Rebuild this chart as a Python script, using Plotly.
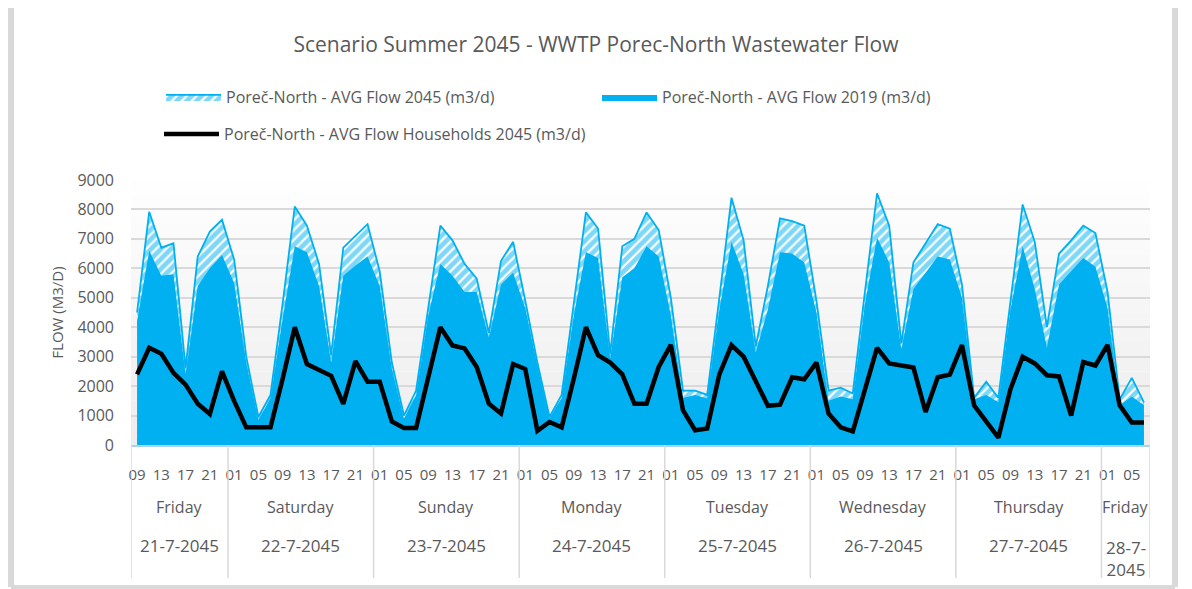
import plotly.graph_objects as go

# ---------------- data ----------------
hours = ["09","11","13","15","17","19","21","23",
         "01","03","05","07","09","11","13","15","17","19","21","23",
         "01","03","05","07","09","11","13","15","17","19","21","23",
         "01","03","05","07","09","11","13","15","17","19","21","23",
         "01","03","05","07","09","11","13","15","17","19","21","23",
         "01","03","05","07","09","11","13","15","17","19","21","23",
         "01","03","05","07","09","11","13","15","17","19","21","23",
         "01","03","05","07"]
days = ["Friday", "Saturday", "Sunday", "Monday", "Tuesday", "Wednesday", "Thursday", "Friday"]
dates = ["21-7-2045", "22-7-2045", "23-7-2045", "24-7-2045", "25-7-2045", "26-7-2045", "27-7-2045", "28-7-<br>2045"]
day_counts = [8, 12, 12, 12, 12, 12, 12, 4]

flow_2045 = [4500, 7920, 6700, 6850, 2600, 6400, 7250, 7650,
             6300, 3000, 950, 1700, 4800, 8100, 7450, 6150, 3050, 6700, 7100, 7500,
             5900, 2800, 1000, 1850, 4650, 7450, 6950, 6150, 5650, 3800, 6250, 6900,
             4900, 2800, 950, 1700, 4800, 7900, 7350, 3100, 6750, 7000, 7900, 7300,
             5000, 1850, 1850, 1700, 5000, 8400, 6950, 3350, 5400, 7700, 7600, 7450,
             4900, 1850, 1950, 1750, 5200, 8550, 7450, 3450, 6200, 6850, 7500, 7350,
             5450, 1600, 2150, 1600, 4900, 8170, 6900, 4000, 6500, 6950, 7450, 7200,
             5200, 1550, 2280, 1450]
flow_2019 = [4200, 6600, 5750, 5800, 2400, 5400, 6000, 6450,
             5500, 2800, 850, 1600, 4300, 6750, 6550, 5400, 2800, 5750, 6100, 6400,
             5400, 2600, 900, 1700, 4400, 6150, 5750, 5200, 5200, 3650, 5450, 5850,
             4650, 2700, 900, 1600, 4400, 6550, 6350, 2950, 5700, 6000, 6750, 6400,
             4400, 1600, 1700, 1580, 4600, 6900, 5800, 3150, 4600, 6550, 6500, 6200,
             4500, 1500, 1650, 1550, 4800, 7050, 6200, 3250, 5300, 5850, 6400, 6300,
             5000, 1550, 1700, 1450, 4600, 6750, 5300, 3300, 5450, 5900, 6350, 6050,
             4650, 1350, 1650, 1350]
households_2045 = [2400, 3300, 3100, 2450, 2050, 1400, 1050, 2500,
                   1500, 600, 600, 600, 2250, 4000, 2750, 2550, 2350, 1400, 2850, 2150,
                   2150, 800, 580, 580, 2350, 4000, 3380, 3280, 2650, 1400, 1070, 2750,
                   2580, 480, 780, 600, 2250, 4000, 3050, 2800, 2400, 1400, 1400, 2650,
                   3400, 1180, 500, 560, 2400, 3390, 3000, 2150, 1330, 1370, 2300, 2230,
                   2800, 1070, 600, 460, 1900, 3300, 2770, 2690, 2630, 1120, 2300, 2390,
                   3390, 1350, 800, 250, 1900, 3000, 2770, 2370, 2330, 1000, 2820, 2700,
                   3400, 1350, 760, 760]

# ---------------- geometry (screen pixels; page body has an 8px margin) ----------------
OFF = 8
W, H = 1192 - OFF, 589 - OFF
PLOT_L, PLOT_R, PLOT_T, PLOT_B = 131, 1150, 180, 445   # screen coords of the plot area
L = PLOT_L - OFF
R = W - (PLOT_R - OFF)
T = PLOT_T - OFF
B = H - (PLOT_B - OFF)
PW, PH = W - L - R, H - T - B


def px(xs):
    return (xs - PLOT_L) / PW


def py(ys):
    return (PLOT_B - ys) / PH


BLUE = "#00B0F0"
GREY_TXT = "#595959"
FONT = "Open Sans"

idx = list(range(len(hours)))

fig = go.Figure()
fig.add_trace(go.Scatter(
    x=idx, y=flow_2045, mode="lines", fill="tozeroy",
    name="Poreč-North - AVG Flow 2045 (m3/d)",
    line=dict(color=BLUE, width=1.8),
    fillcolor="white",
    fillpattern=dict(shape="/", fgcolor=BLUE, bgcolor="white", size=7, solidity=0.68),
    legend="legend",
))
fig.add_trace(go.Scatter(
    x=idx, y=flow_2019, mode="lines", fill="tozeroy",
    name="Poreč-North - AVG Flow 2019 (m3/d)",
    line=dict(color=BLUE, width=0),
    fillcolor=BLUE,
    legend="legend",
))
fig.add_trace(go.Scatter(
    x=idx, y=households_2045, mode="lines",
    name="Poreč-North - AVG Flow Households 2045 (m3/d)",
    line=dict(color="black", width=4.5),
    legend="legend2",
))

shapes = []
# plot background gradient (white at top -> light grey at bottom)
nb = 18
for k in range(nb):
    g = int(round(255 - (255 - 236) * (k + 0.5) / nb))
    shapes.append(dict(type="rect", xref="paper", yref="paper",
                       x0=0, x1=1, y0=1 - (k + 1) / nb, y1=1 - k / nb,
                       fillcolor=f"rgb({g},{g},{g})", line=dict(width=0), layer="below"))

# category group separators below the axis
bounds = [-0.5]
for c in day_counts:
    bounds.append(bounds[-1] + c)
for b in bounds:
    shapes.append(dict(type="line", xref="x", yref="paper", x0=b, x1=b,
                       y0=0, y1=py(578), line=dict(color="#d9d9d9", width=1.5)))

# outer frame
shapes.append(dict(type="line", xref="paper", yref="paper", x0=px(11), x1=px(11),
                   y0=py(0), y1=py(587), line=dict(color="#d9d9d9", width=6)))
shapes.append(dict(type="line", xref="paper", yref="paper", x0=px(1175), x1=px(1175),
                   y0=py(0), y1=py(587), line=dict(color="#d9d9d9", width=6)))
shapes.append(dict(type="line", xref="paper", yref="paper", x0=px(11), x1=px(1175),
                   y0=py(587), y1=py(587), line=dict(color="#d9d9d9", width=4)))

annotations = []
for i, (d, dt) in enumerate(zip(days, dates)):
    cx = (bounds[i] + bounds[i + 1]) / 2
    annotations.append(dict(x=cx, xref="x", y=py(507), yref="paper", text=d,
                            showarrow=False, yanchor="middle",
                            font=dict(family=FONT, size=16, color=GREY_TXT)))
    if "<br>" in dt:
        annotations.append(dict(x=cx, xref="x", y=py(534), yref="paper", text=dt,
                                showarrow=False, yanchor="top",
                                font=dict(family=FONT, size=17, color=GREY_TXT)))
    else:
        annotations.append(dict(x=cx, xref="x", y=py(545), yref="paper", text=dt,
                                showarrow=False, yanchor="middle",
                                font=dict(family=FONT, size=17, color=GREY_TXT)))

tick_vals = idx[::2]
tick_text = hours[::2]

fig.update_layout(
    width=W, height=H,
    margin=dict(l=L, r=R, t=T, b=B, autoexpand=False),
    paper_bgcolor="white", plot_bgcolor="rgba(0,0,0,0)",
    font=dict(family=FONT, color=GREY_TXT),
    title=dict(text="Scenario Summer 2045 - WWTP Porec-North Wastewater Flow",
               x=(596 - OFF) / W, xref="container", xanchor="center",
               y=1 - (45 - OFF) / H, yref="container", yanchor="middle",
               font=dict(family=FONT, size=21, color=GREY_TXT)),
    xaxis=dict(range=[-0.5, len(hours) - 0.5], tickmode="array",
               tickvals=tick_vals, ticktext=tick_text, showgrid=False,
               zeroline=False, showline=True, linecolor="#a9d3f0", linewidth=1.5,
               ticks="", ticklabelstandoff=15,
               tickfont=dict(family=FONT, size=15, color=GREY_TXT)),
    yaxis=dict(range=[0, 9000], dtick=1000, showgrid=True, gridcolor="#d9d9d9",
               gridwidth=1.5, zeroline=False, showline=False, ticks="",
               ticklabelstandoff=16,
               tickfont=dict(family=FONT, size=16, color=GREY_TXT)),
    legend=dict(orientation="h", x=px(161), xanchor="left", y=py(97), yanchor="middle",
                entrywidth=366, entrywidthmode="pixels", itemwidth=55,
                bgcolor="rgba(0,0,0,0)", font=dict(family=FONT, size=16, color=GREY_TXT),
                traceorder="normal"),
    legend2=dict(orientation="h", x=px(159), xanchor="left", y=py(134), yanchor="middle",
                 itemwidth=55, bgcolor="rgba(0,0,0,0)",
                 font=dict(family=FONT, size=16, color=GREY_TXT)),
    shapes=shapes,
    annotations=annotations,
)
fig.update_yaxes(title=dict(text="FLOW (M3/D)", standoff=10,
                            font=dict(family=FONT, size=15, color=GREY_TXT)))

fig.write_html("out.html")
